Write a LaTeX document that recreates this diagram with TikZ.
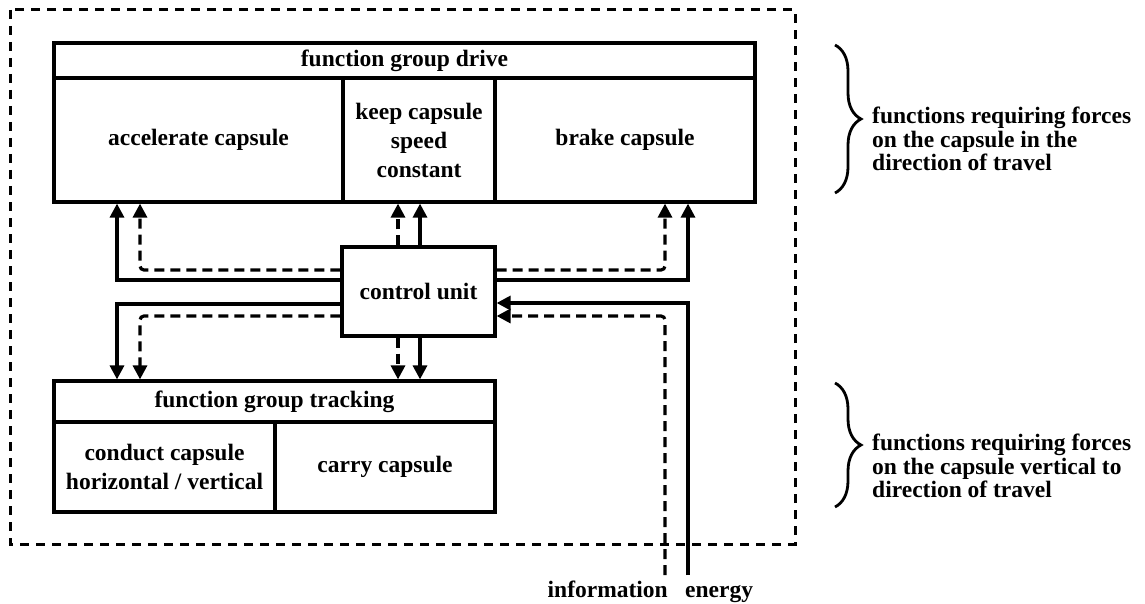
\documentclass[tikz,border=0pt]{standalone}
\usepackage{fontspec}
\setmainfont{Liberation Serif}
\usetikzlibrary{arrows.meta,decorations.pathreplacing,calc}
\begin{document}
\begin{tikzpicture}[x=1pt,y=-1pt,
  every node/.style={font=\fontsize{23.5}{29}\selectfont\bfseries},
  box/.style={draw, line width=3.2pt, inner sep=0pt, align=center, anchor=center},
  conn/.style={line width=3.2pt, -{Triangle[length=14pt,width=14pt]}},
  dconn/.style={conn, dash pattern=on 10pt off 6pt, rounded corners=4pt},
  outer/.style={line width=3pt, dash pattern=on 9pt off 7pt},
  brc/.style={line width=2.8pt, decorate, decoration={brace, amplitude=26pt}},
  side/.style={anchor=west, align=left, inner sep=0pt, font=\fontsize{23.5}{23.5}\selectfont\bfseries}]

\useasboundingbox (0,0) rectangle (1145,604);
\draw[outer] (10,10) rectangle (795,544);

% function group drive
\node[box, minimum width=701pt, minimum height=35pt] (drivehead) at (404.5,60.5) {function group drive};
\node[box, minimum width=289pt, minimum height=124pt] (accel) at (198.5,140) {accelerate capsule};
\node[box, minimum width=152pt, minimum height=124pt] (keep) at (419,140) {keep capsule\\speed\\constant};
\node[box, minimum width=260pt, minimum height=124pt] (brake) at (625,140) {brake capsule};

% control unit
\node[box, minimum width=153pt, minimum height=89pt] (control) at (418.5,291.5) {control unit};

% function group tracking
\node[box, minimum width=441pt, minimum height=41pt] (trackhead) at (274.5,401.5) {function group tracking};
\node[box, minimum width=221pt, minimum height=90pt] (conduct) at (164.5,467) {conduct capsule\\horizontal / vertical};
\node[box, minimum width=220pt, minimum height=90pt] (carry) at (385,467) {carry capsule};

% connectors to drive
\draw[conn] (control.west |- 0,280) -| (117,0 |- accel.south);
\draw[dconn] (control.west |- 0,270) -| (140,0 |- accel.south);
\draw[dconn] (control.north -| 398,0) -- (keep.south -| 398,0);
\draw[conn] (control.north -| 420,0) -- (keep.south -| 420,0);
\draw[dconn] (control.east |- 0,270) -| (665,0 |- brake.south);
\draw[conn] (control.east |- 0,280) -| (688,0 |- brake.south);

% connectors to tracking
\draw[conn] (control.west |- 0,304) -| (117,0 |- trackhead.north);
\draw[dconn] (control.west |- 0,316) -| (140,0 |- trackhead.north);
\draw[dconn] (control.south -| 398,0) -- (trackhead.north -| 398,0);
\draw[conn] (control.south -| 420,0) -- (trackhead.north -| 420,0);

% inputs
\node[anchor=base east, inner sep=0pt] (info) at (668,597) {information};
\node[anchor=base west, inner sep=0pt] (energy) at (685,597) {energy};
\coordinate (ein) at (688,575);
\coordinate (iin) at (665,575);
\draw[conn] (ein) |- (control.east |- 0,303);
\draw[dconn] (iin) |- (control.east |- 0,316);

% braces and side texts
\draw[brc] (835,45) -- (835,193);
\draw[brc] (835,383) -- (835,507);
\node[side] (t1) at (872,139) {functions requiring forces\\on the capsule in the\\direction of travel};
\node[side] (t2) at (872,466) {functions requiring forces\\on the capsule vertical to\\direction of travel};
\end{tikzpicture}
\end{document}
